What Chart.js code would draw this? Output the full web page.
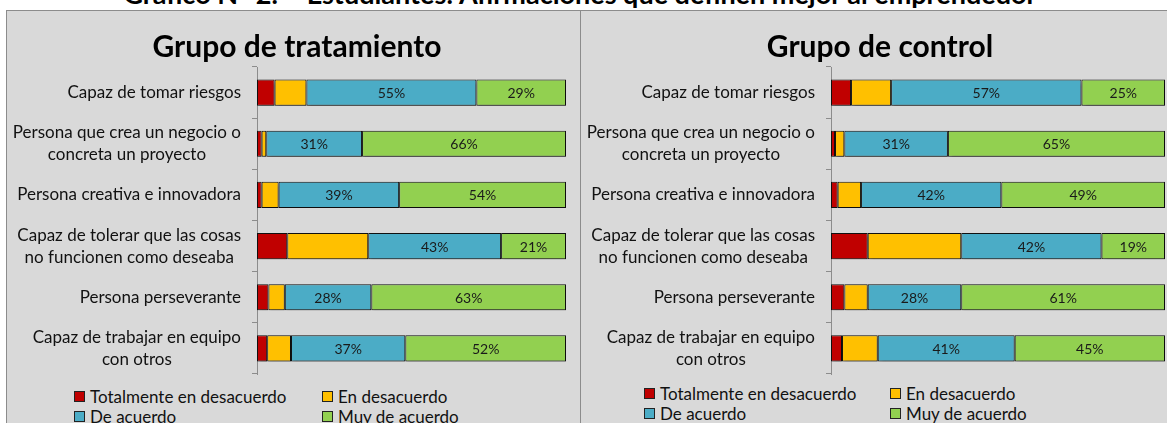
<!DOCTYPE html>
<html lang="es">
<head>
<meta charset="utf-8">
<title>Afirmaciones que definen mejor al emprendedor</title>
<script src="https://cdn.jsdelivr.net/npm/chart.js@4.4.1/dist/chart.umd.min.js"></script>
<style>
    html, body { margin: 0; padding: 0; background: #fff; }
    body { width: 1167px; height: 423px; position: relative; overflow: hidden; font-family: Lato, 'Liberation Sans', sans-serif; }
    #titulo { position: absolute; left: 0; width: 1160px; top: -20px; line-height: 27px; text-align: center; font-weight: bold; font-size: 27px; color: #000; white-space: nowrap; }
    .panel { position: absolute; top: 10px; height: 430px; background: #d9d9d9; border: 1px solid #8c8c8c; box-sizing: border-box; }
    #panel-trat { left: 6px; width: 575px; }
    #panel-ctrl { left: 580px; width: 610px; }
    .panel canvas { position: absolute; left: 0; top: 0; }
    .leyenda { position: absolute; display: grid; grid-auto-rows: 20px; font-size: 17px; color: #111; }
    .leyenda span { display: flex; align-items: center; white-space: nowrap; }
    .leyenda i { display: inline-block; width: 9px; height: 9px; border: 1px solid #222; margin-right: 5px; }
    #leyenda-trat { left: 67px; top: 375px; grid-template-columns: 248px 200px; }
    #leyenda-ctrl { left: 63px; top: 372px; grid-template-columns: 246px 200px; }
</style>
</head>
<body>
<div id="titulo">Gráfico N° 2. – Estudiantes: Afirmaciones que definen mejor al emprendedor</div>
<div class="panel" id="panel-trat">
    <canvas id="chartTrat" width="572" height="366"></canvas>
    <div class="leyenda" id="leyenda-trat"></div>
</div>
<div class="panel" id="panel-ctrl">
    <canvas id="chartCtrl" width="600" height="366"></canvas>
    <div class="leyenda" id="leyenda-ctrl"></div>
</div>

<script>
// Categorias (eje vertical)
const categorias = [
    ['Capaz de tomar riesgos'],
    ['Persona que crea un negocio o', 'concreta un proyecto'],
    ['Persona creativa e innovadora'],
    ['Capaz de tolerar que las cosas', 'no funcionen como deseaba'],
    ['Persona perseverante'],
    ['Capaz de trabajar en equipo', 'con otros']
];

const series = ['Totalmente en desacuerdo', 'En desacuerdo', 'De acuerdo', 'Muy de acuerdo'];
const colores = ['#c00000', '#ffc000', '#4bacc6', '#92d050'];

// Grupo de tratamiento (%)
const tratTotDesacuerdo = [5.7, 1.5, 1.5, 9.8, 3.7, 3.3];
const tratDesacuerdo = [10.3, 1.5, 5.5, 26.2, 5.3, 7.7];
const tratDeAcuerdo = [55, 31, 39, 43, 28, 37];
const tratMuyDeAcuerdo = [29, 66, 54, 21, 63, 52];

// Grupo de control (%)
const ctrlTotDesacuerdo = [6, 1.2, 2, 11, 4, 3.3];
const ctrlDesacuerdo = [12, 2.8, 7, 28, 7, 10.7];
const ctrlDeAcuerdo = [57, 31, 42, 42, 28, 41];
const ctrlMuyDeAcuerdo = [25, 65, 49, 19, 61, 45];

// etiquetas de porcentaje solo en "De acuerdo" y "Muy de acuerdo"
const etiquetasPlugin = {
    id: 'etiquetas',
    afterDatasetsDraw(chart) {
        const ctx = chart.ctx;
        ctx.save();
        ctx.font = '14px Lato, "Liberation Sans", sans-serif';
        ctx.fillStyle = '#1a1a1a';
        ctx.textAlign = 'center';
        ctx.textBaseline = 'middle';
        [2, 3].forEach(d => {
            const meta = chart.getDatasetMeta(d);
            meta.data.forEach((bar, i) => {
                const v = chart.data.datasets[d].data[i];
                ctx.fillText(Math.round(v) + '%', (bar.x + bar.base) / 2, bar.y + 1);
            });
        });
        ctx.restore();
    }
};

// sombra ligera de las barras (estilo Excel)
const sombraPlugin = {
    id: 'sombra',
    beforeDatasetDraw(chart) {
        const ctx = chart.ctx;
        ctx.save();
        ctx.shadowColor = 'rgba(0,0,0,0.35)';
        ctx.shadowBlur = 3;
        ctx.shadowOffsetX = 2;
        ctx.shadowOffsetY = 2;
    },
    afterDatasetDraw(chart) {
        chart.ctx.restore();
    }
};

// etiquetas del eje: bloque alineado a la derecha, lineas centradas entre si
const categoriasPlugin = {
    id: 'categorias',
    afterDraw(chart) {
        const ctx = chart.ctx;
        const y = chart.scales.y;
        const lineH = 22;
        ctx.save();
        ctx.font = '17px Lato, "Liberation Sans", sans-serif';
        ctx.fillStyle = '#111';
        ctx.textAlign = 'center';
        ctx.textBaseline = 'middle';
        categorias.forEach((lineas, i) => {
            const cy = y.getPixelForValue(i);
            const maxW = Math.max(...lineas.map(l => ctx.measureText(l).width));
            const cx = chart.chartArea.left - 16 - maxW / 2;
            lineas.forEach((l, j) => {
                ctx.fillText(l, cx, cy + (j - (lineas.length - 1) / 2) * lineH);
            });
        });
        ctx.restore();
    }
};

function crearGrafico(id, titulo, valores, padLeft, padRight) {
    const datasets = series.map((s, k) => ({
        label: s,
        data: valores[k],
        backgroundColor: colores[k],
        borderColor: '#111',
        borderWidth: 1,
        borderSkipped: false,
        barPercentage: 0.51,
        categoryPercentage: 1
    }));

    return new Chart(document.getElementById(id), {
        type: 'bar',
        data: { labels: categorias.map(c => c.join(' ')), datasets: datasets },
        options: {
            indexAxis: 'y',
            responsive: false,
            animation: false,
            layout: { padding: { left: padLeft, right: padRight, top: 0, bottom: 3 } },
            plugins: {
                legend: { display: false },
                tooltip: { enabled: false },
                title: {
                    display: true,
                    text: titulo,
                    color: '#000',
                    font: { family: 'Lato, "Liberation Sans", sans-serif', size: 30, weight: 'bold' },
                    padding: { top: 18, bottom: 2 }
                }
            },
            scales: {
                x: { display: false, stacked: true, min: 0, max: 100 },
                y: {
                    stacked: true,
                    ticks: { display: false },
                    grid: {
                        offset: true,
                        drawOnChartArea: false,
                        drawTicks: true,
                        tickLength: 5,
                        color: '#8c8c8c'
                    },
                    border: { display: true, color: '#8c8c8c' },
                    afterFit(scale) { scale.width = 250 - padLeft; }
                }
            }
        },
        plugins: [sombraPlugin, etiquetasPlugin, categoriasPlugin]
    });
}

function crearLeyenda(id, chart) {
    const cont = document.getElementById(id);
    chart.data.datasets.forEach(ds => {
        const item = document.createElement('span');
        const caja = document.createElement('i');
        caja.style.background = ds.backgroundColor;
        item.appendChild(caja);
        item.appendChild(document.createTextNode(ds.label));
        cont.appendChild(item);
    });
}

const chartTrat = crearGrafico('chartTrat', 'Grupo de tratamiento',
    [tratTotDesacuerdo, tratDesacuerdo, tratDeAcuerdo, tratMuyDeAcuerdo], 21, 13);
const chartCtrl = crearGrafico('chartCtrl', 'Grupo de control',
    [ctrlTotDesacuerdo, ctrlDesacuerdo, ctrlDeAcuerdo, ctrlMuyDeAcuerdo], 14, 16);

crearLeyenda('leyenda-trat', chartTrat);
crearLeyenda('leyenda-ctrl', chartCtrl);
</script>
</body>
</html>
